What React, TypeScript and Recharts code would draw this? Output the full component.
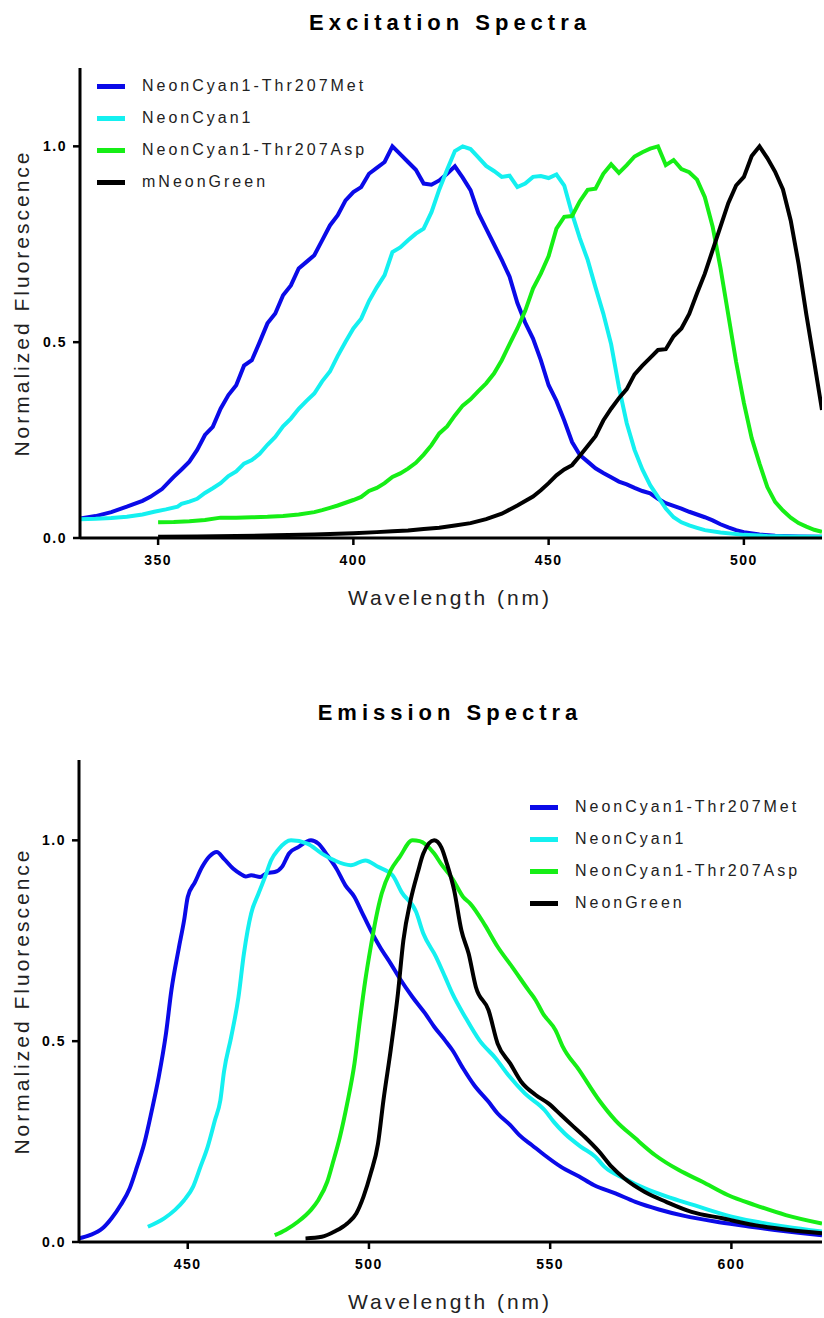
import { LineChart, Line, XAxis, YAxis } from 'recharts';

// wavelength (nm), normalized value
const exMet = [[330,0.05],[334,0.056],[338,0.066],[342,0.08],[346,0.095],[348,0.105],[351,0.125],[354,0.156],[356,0.175],[358,0.195],[360,0.225],[362,0.263],[364,0.284],[366,0.33],[368,0.365],[370,0.39],[372,0.44],[374,0.454],[376,0.5],[378,0.548],[380,0.573],[382,0.62],[384,0.645],[386,0.688],[388,0.705],[390,0.722],[392,0.76],[394,0.798],[396,0.824],[398,0.862],[400,0.883],[402,0.896],[404,0.93],[406,0.945],[408,0.96],[410,1.0],[412,0.98],[414,0.96],[416,0.94],[418,0.905],[420,0.902],[422,0.913],[424,0.93],[426,0.949],[428,0.92],[430,0.888],[432,0.83],[434,0.79],[436,0.75],[438,0.71],[440,0.667],[442,0.6],[444,0.55],[446,0.509],[448,0.454],[450,0.39],[452,0.35],[454,0.3],[456,0.245],[458,0.212],[460,0.195],[462,0.178],[464,0.166],[466,0.155],[468,0.144],[470,0.137],[472,0.128],[474,0.12],[476,0.114],[478,0.1],[480,0.089],[482,0.082],[484,0.075],[486,0.067],[488,0.06],[490,0.053],[492,0.045],[494,0.035],[496,0.027],[498,0.02],[500,0.015],[504,0.009],[508,0.006],[514,0.004],[520,0.003]];
const exCyan = [[330,0.048],[334,0.049],[338,0.051],[342,0.054],[346,0.06],[349,0.067],[352,0.073],[355,0.08],[356,0.087],[358,0.093],[360,0.1],[362,0.115],[364,0.127],[366,0.14],[368,0.158],[370,0.17],[372,0.19],[374,0.199],[376,0.215],[378,0.238],[380,0.258],[382,0.285],[384,0.305],[386,0.33],[388,0.35],[390,0.369],[392,0.4],[394,0.425],[396,0.465],[398,0.501],[400,0.535],[402,0.56],[404,0.605],[406,0.64],[408,0.671],[410,0.73],[412,0.742],[414,0.76],[416,0.777],[418,0.79],[420,0.832],[422,0.89],[424,0.94],[426,0.988],[428,1.0],[430,0.993],[432,0.972],[434,0.95],[436,0.937],[438,0.922],[440,0.925],[442,0.896],[444,0.905],[446,0.922],[448,0.924],[450,0.919],[452,0.928],[454,0.9],[456,0.828],[458,0.765],[460,0.71],[462,0.64],[464,0.573],[466,0.495],[468,0.385],[470,0.293],[472,0.225],[474,0.175],[476,0.135],[478,0.105],[480,0.075],[482,0.053],[484,0.04],[486,0.032],[488,0.026],[490,0.02],[494,0.014],[500,0.008],[506,0.005],[512,0.004],[520,0.003]];
const exAsp = [[350,0.04],[354,0.041],[358,0.043],[362,0.046],[366,0.052],[370,0.052],[374,0.053],[378,0.054],[382,0.056],[386,0.06],[390,0.066],[392,0.071],[394,0.077],[396,0.083],[398,0.09],[400,0.097],[402,0.105],[404,0.12],[406,0.128],[408,0.14],[410,0.156],[412,0.165],[414,0.177],[416,0.192],[418,0.213],[420,0.237],[422,0.267],[424,0.285],[426,0.313],[428,0.338],[430,0.354],[432,0.375],[434,0.395],[436,0.42],[438,0.454],[440,0.495],[442,0.535],[444,0.58],[446,0.637],[448,0.675],[450,0.72],[452,0.79],[454,0.82],[456,0.822],[458,0.86],[460,0.889],[462,0.892],[464,0.93],[466,0.954],[468,0.932],[470,0.952],[472,0.974],[474,0.985],[476,0.994],[478,1.0],[480,0.952],[482,0.965],[484,0.942],[486,0.934],[488,0.915],[490,0.87],[492,0.795],[494,0.69],[496,0.57],[498,0.45],[500,0.345],[502,0.255],[504,0.19],[506,0.13],[508,0.092],[510,0.07],[512,0.052],[514,0.038],[516,0.029],[518,0.021],[520,0.016]];
const exGreen = [[350,0.003],[360,0.004],[370,0.005],[380,0.007],[390,0.009],[400,0.012],[406,0.015],[410,0.017],[414,0.019],[418,0.023],[422,0.026],[426,0.032],[430,0.038],[434,0.048],[438,0.062],[442,0.083],[446,0.106],[448,0.122],[450,0.14],[452,0.16],[454,0.175],[456,0.186],[458,0.21],[460,0.235],[462,0.26],[464,0.3],[466,0.33],[468,0.357],[470,0.38],[472,0.418],[474,0.44],[476,0.46],[478,0.48],[480,0.482],[482,0.515],[484,0.535],[486,0.572],[488,0.625],[490,0.675],[492,0.735],[494,0.795],[496,0.855],[498,0.9],[500,0.922],[502,0.975],[504,1.0],[506,0.97],[508,0.935],[510,0.89],[512,0.81],[514,0.7],[516,0.57],[518,0.45],[520,0.327]];

const emMet = [[420,0.009],[423,0.017],[426.5,0.034],[429,0.059],[431.5,0.092],[434,0.134],[436,0.187],[438,0.245],[440,0.324],[442,0.411],[444,0.519],[445.5,0.627],[447.5,0.73],[449,0.801],[450,0.859],[452,0.896],[454,0.934],[456,0.96],[458,0.971],[460,0.954],[462.5,0.93],[464.5,0.917],[466,0.91],[467.5,0.913],[470,0.909],[472,0.919],[474,0.921],[476,0.934],[478,0.968],[480.5,0.983],[484,1.0],[486,0.992],[488.5,0.963],[491,0.93],[493.5,0.888],[496,0.859],[498,0.822],[500.5,0.776],[503,0.735],[506,0.693],[508.5,0.656],[512,0.61],[515.5,0.569],[518,0.536],[521,0.502],[523,0.478],[526,0.432],[529,0.391],[533,0.349],[535.5,0.32],[539,0.291],[541.5,0.266],[545,0.241],[548.5,0.216],[553,0.187],[558,0.163],[562,0.142],[568,0.121],[573.5,0.1],[580,0.081],[587,0.065],[595.5,0.051],[604,0.04],[612,0.03],[618.5,0.023],[625,0.017]];
const emCyan = [[439,0.038],[443.5,0.059],[446.5,0.08],[449,0.104],[451.5,0.138],[453.5,0.187],[455.5,0.237],[457.5,0.303],[459,0.353],[460,0.424],[462,0.511],[464,0.61],[465.5,0.718],[467.5,0.818],[469.5,0.867],[471.5,0.913],[473,0.95],[475,0.977],[478.5,1.0],[483,0.992],[487,0.967],[490.5,0.95],[495,0.938],[499,0.95],[502.5,0.934],[506.5,0.913],[509,0.871],[513,0.822],[515,0.768],[518.5,0.71],[521,0.66],[523,0.619],[526.5,0.561],[530.5,0.502],[535,0.457],[538.5,0.415],[543,0.37],[548.5,0.328],[551,0.299],[554,0.27],[558.5,0.237],[562.5,0.212],[565,0.187],[570.5,0.158],[576,0.134],[583.5,0.109],[591,0.088],[598.5,0.067],[606.5,0.051],[615,0.038],[625,0.026]];
const emAsp = [[474,0.017],[477,0.03],[480.5,0.051],[484,0.08],[486,0.104],[488.5,0.15],[490,0.196],[492,0.262],[494,0.345],[496,0.444],[497.5,0.552],[499,0.652],[500.5,0.735],[502,0.809],[503.5,0.867],[506,0.925],[508.5,0.959],[512,1.0],[514,0.998],[518,0.967],[520,0.94],[523,0.905],[526,0.859],[528,0.842],[532,0.789],[535.5,0.735],[539.5,0.685],[544,0.627],[546,0.602],[548,0.569],[551.5,0.527],[553.5,0.486],[558,0.428],[563.5,0.353],[568,0.303],[573.5,0.258],[579,0.216],[585.5,0.179],[592,0.15],[599,0.117],[606.5,0.092],[615,0.067],[625,0.046]];
const emGreen = [[482.5,0.009],[487,0.013],[490.5,0.026],[494,0.046],[496.5,0.071],[498.5,0.113],[500.5,0.171],[502.5,0.245],[504,0.353],[506,0.478],[508,0.619],[509.5,0.751],[511.5,0.851],[513.5,0.921],[515,0.967],[518,1.0],[520,0.982],[521.5,0.942],[523.5,0.876],[525.5,0.776],[527.5,0.718],[529.5,0.635],[533,0.577],[535.5,0.494],[539,0.444],[542,0.399],[546,0.366],[549.5,0.345],[553,0.316],[556,0.291],[559.5,0.262],[563.5,0.225],[567,0.187],[570.5,0.158],[576,0.125],[582,0.1],[589,0.075],[597.5,0.059],[606.5,0.042],[616,0.03],[625,0.022]];

const exNames = ['NeonCyan1-Thr207Met', 'NeonCyan1', 'NeonCyan1-Thr207Asp', 'mNeonGreen'];
const emNames = ['NeonCyan1-Thr207Met', 'NeonCyan1', 'NeonCyan1-Thr207Asp', 'NeonGreen'];
const exTicks = [350, 400, 450, 500];
const emTicks = [450, 500, 550, 600];
const yTicks = [0, 0.5, 1.0];
const colors = ['#0a0ae8', '#14f0f0', '#16ee16', '#000000'];

const FONT = '"Liberation Sans", Arial, Helvetica, sans-serif';

const toRows = (pts: number[][]) => pts.map(([nm, v]) => ({ nm, v }));

interface PanelProps {
  top: number;
  height: number;
  marginTop: number;
  marginLeft: number;
  title: string;
  titleY: number;
  series: number[][][];
  names: string[];
  domain: [number, number];
  ticks: number[];
  curve: 'linear' | 'monotone';
  legendX: number;
  legendY: number;
}

function Panel(p: PanelProps) {
  const plotTop = p.marginTop;
  const plotBottom = p.height - 82;
  const tickStyle = { fill: '#000', fontSize: 14, fontWeight: 700, letterSpacing: 1.5, fontFamily: FONT };
  return (
    <div style={{ position: 'absolute', left: 0, top: p.top, width: 824, height: p.height }}>
      <div style={{ position: 'absolute', left: 450, top: p.titleY, transform: 'translate(-50%, -50%)', fontSize: 22, fontWeight: 700, letterSpacing: 5, whiteSpace: 'nowrap' }}>
        {p.title}
      </div>
      <LineChart width={824} height={p.height} margin={{ top: p.marginTop, right: 2, left: p.marginLeft - 60, bottom: 20 }}>
        <XAxis
          dataKey="nm"
          type="number"
          domain={p.domain}
          ticks={p.ticks}
          allowDataOverflow
          height={62}
          tickSize={7}
          tickMargin={10}
          tick={tickStyle}
          axisLine={{ stroke: '#000', strokeWidth: 3 }}
          tickLine={{ stroke: '#000', strokeWidth: 2.5 }}
        />
        <YAxis
          type="number"
          domain={[0, 1.2]}
          ticks={yTicks}
          allowDataOverflow
          width={60}
          tickSize={7}
          tickMargin={6}
          tick={tickStyle}
          tickFormatter={(v: number) => v.toFixed(1)}
          axisLine={{ stroke: '#000', strokeWidth: 3 }}
          tickLine={{ stroke: '#000', strokeWidth: 2.5 }}
        />
        {p.series.map((s, i) => (
          <Line
            key={p.names[i]}
            data={toRows(s)}
            dataKey="v"
            name={p.names[i]}
            type={p.curve}
            stroke={colors[i]}
            strokeWidth={4}
            dot={false}
            isAnimationActive={false}
          />
        ))}
      </LineChart>
      <div style={{ position: 'absolute', left: 450, top: plotBottom + 60, transform: 'translate(-50%, -50%)', fontSize: 21, letterSpacing: 3, color: '#222', whiteSpace: 'nowrap' }}>
        Wavelength (nm)
      </div>
      <div style={{ position: 'absolute', left: 22, top: (plotTop + plotBottom) / 2, transform: 'translate(-50%, -50%) rotate(-90deg)', fontSize: 21, letterSpacing: 3, color: '#222', whiteSpace: 'nowrap' }}>
        Normalized Fluorescence
      </div>
      <div style={{ position: 'absolute', left: p.legendX, top: p.legendY }}>
        {p.names.map((n, i) => (
          <div key={n} style={{ display: 'flex', alignItems: 'center', height: 32 }}>
            <div style={{ width: 28, height: 5, background: colors[i], marginRight: 17 }} />
            <span style={{ fontSize: 16, letterSpacing: 3, color: '#222' }}>{n}</span>
          </div>
        ))}
      </div>
    </div>
  );
}

export default function App() {
  return (
    <div style={{ position: 'absolute', left: 0, top: 0, width: 824, height: 1318, background: '#fff', fontFamily: FONT, color: '#000' }}>
      <Panel
        top={0}
        height={620}
        marginTop={68}
        marginLeft={80}
        title="Excitation Spectra"
        titleY={23}
        series={[exMet, exCyan, exAsp, exGreen]}
        names={exNames}
        domain={[330, 520]}
        ticks={exTicks}
        curve="linear"
        legendX={97}
        legendY={70}
      />
      <Panel
        top={700}
        height={624}
        marginTop={60}
        marginLeft={79}
        title="Emission Spectra"
        titleY={13}
        series={[emMet, emCyan, emAsp, emGreen]}
        names={emNames}
        domain={[420, 625]}
        ticks={emTicks}
        curve="monotone"
        legendX={530}
        legendY={91}
      />
    </div>
  );
}
